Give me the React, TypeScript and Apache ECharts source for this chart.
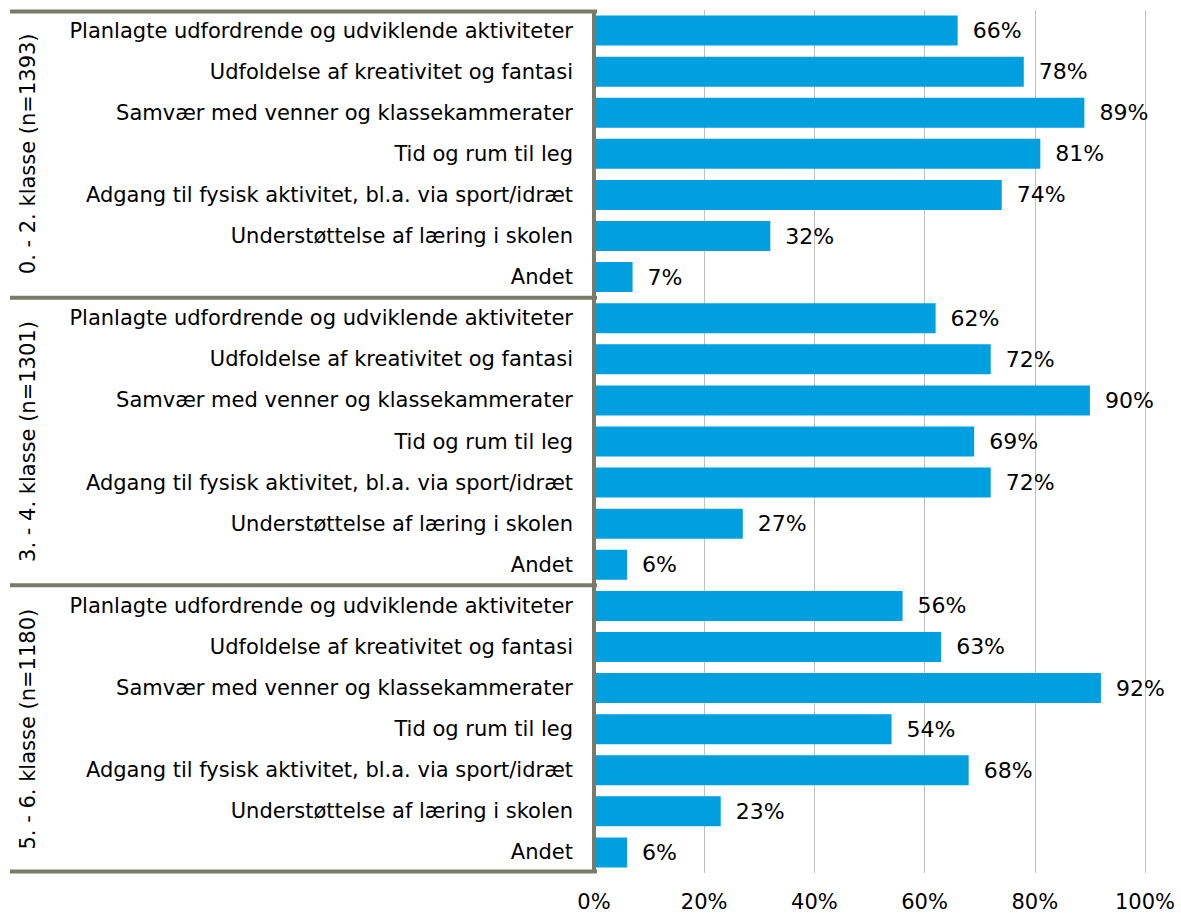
import React, { useEffect, useRef } from "react";
import * as echarts from "echarts";

const groups = ["0. - 2. klasse (n=1393)", "3. - 4. klasse (n=1301)", "5. - 6. klasse (n=1180)"];
const items = [
  "Planlagte udfordrende og udviklende aktiviteter",
  "Udfoldelse af kreativitet og fantasi",
  "Samvær med venner og klassekammerater",
  "Tid og rum til leg",
  "Adgang til fysisk aktivitet, bl.a. via sport/idræt",
  "Understøttelse af læring i skolen",
  "Andet",
];
const values0to2 = [66, 78, 89, 81, 74, 32, 7];
const values3to4 = [62, 72, 90, 69, 72, 27, 6];
const values5to6 = [56, 63, 92, 54, 68, 23, 6];
const xTicks = [0, 20, 40, 60, 80, 100];

const W = 1181;
const H = 913;
const GRID = { left: 594, right: 36, top: 10, bottom: 40 };
const FONT = "DejaVu Sans, Verdana, sans-serif";

export default function App() {
  const ref = useRef<HTMLDivElement>(null);
  useEffect(() => {
    if (!ref.current) return;
    const chart = echarts.init(ref.current, null, { renderer: "svg" });
    const allVals = [values0to2, values3to4, values5to6];
    const cats: string[] = [];
    const data: number[] = [];
    allVals.forEach((vals, g) => {
      vals.forEach((v, i) => {
        cats.push(g + "|" + i);
        data.push(v);
      });
    });
    const n = cats.length;
    const plotTop = GRID.top;
    const plotBottom = H - GRID.bottom;
    const rowH = (plotBottom - plotTop) / n;
    const lineColor = "#7a7a68";
    const graphics: any[] = [];
    for (let g = 0; g <= groups.length; g++) {
      const y = plotTop + g * items.length * rowH + (g === 0 ? 1.5 : g === groups.length ? -1.5 : 0);
      graphics.push({
        type: "line",
        shape: { x1: 10, y1: y, x2: GRID.left + 3, y2: y },
        style: { stroke: lineColor, lineWidth: 4 },
        z: 100,
      });
    }
    graphics.push({
      type: "line",
      shape: { x1: GRID.left, y1: plotTop, x2: GRID.left, y2: plotBottom },
      style: { stroke: lineColor, lineWidth: 4 },
      z: 100,
    });
    groups.forEach((g, gi) => {
      const cy = plotTop + (gi + 0.5) * items.length * rowH;
      graphics.push({
        type: "text",
        x: 28,
        y: cy,
        rotation: Math.PI / 2,
        style: {
          text: g,
          fill: "#000",
          font: "21px " + FONT,
          textAlign: "center",
          textVerticalAlign: "middle",
        },
        z: 100,
      });
    });
    chart.setOption({
      animation: false,
      textStyle: { fontFamily: FONT },
      grid: { left: GRID.left, right: GRID.right, top: GRID.top, bottom: GRID.bottom, containLabel: false },
      xAxis: {
        type: "value",
        min: 0,
        max: 100,
        interval: 20,
        axisLine: { show: false },
        axisTick: { show: false },
        splitLine: { show: true, lineStyle: { color: "#c0c0c0", width: 1 } },
        axisLabel: {
          color: "#000",
          fontSize: 21,
          fontFamily: FONT,
          margin: 18,
          formatter: (v: number) => (xTicks.includes(v) ? v + "%" : ""),
        },
      },
      yAxis: {
        type: "category",
        inverse: true,
        data: cats,
        axisLine: { show: false },
        axisTick: { show: false },
        axisLabel: {
          color: "#000",
          fontSize: 21,
          fontFamily: FONT,
          margin: 21,
          interval: 0,
          formatter: (v: string) => items[Number(v.split("|")[1])],
        },
      },
      series: [
        {
          type: "bar",
          data,
          barCategoryGap: "27%",
          itemStyle: { color: "#009fe0" },
          label: {
            show: true,
            position: "right",
            distance: 15,
            color: "#000",
            fontSize: 22,
            fontFamily: FONT,
            formatter: (p: any) => p.value + "%",
          },
        },
      ],
      graphic: graphics,
    });
    return () => chart.dispose();
  }, []);
  return <div ref={ref} style={{ position: "fixed", left: 0, top: 0, width: W, height: H, background: "#fff" }} />;
}
